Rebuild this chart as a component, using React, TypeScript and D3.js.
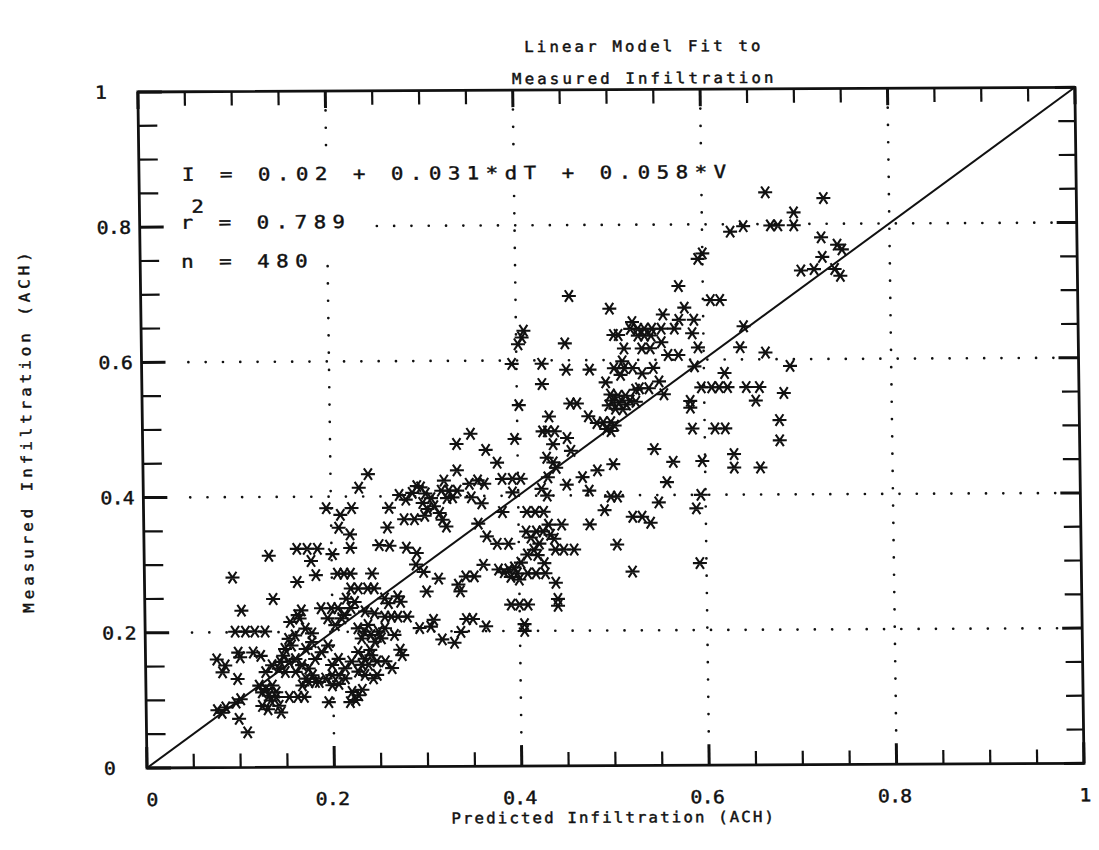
import React, { useRef, useEffect } from "react";
import { select, scaleLinear, range } from "d3";

// predicted (x) vs measured (y) infiltration, ACH
const lowCluster: [number, number][] = [
  [0.094, 0.281], [0.103, 0.232], [0.137, 0.249],
  [0.096, 0.201], [0.107, 0.201], [0.117, 0.201], [0.128, 0.201],
  [0.076, 0.160], [0.085, 0.151], [0.082, 0.141],
  [0.099, 0.170], [0.101, 0.163], [0.115, 0.170], [0.123, 0.165], [0.098, 0.131],
  [0.076, 0.085], [0.085, 0.089], [0.081, 0.081],
  [0.096, 0.096], [0.101, 0.101], [0.099, 0.072], [0.108, 0.052],
  [0.121, 0.121], [0.128, 0.116], [0.135, 0.121], [0.124, 0.111], [0.131, 0.106], [0.139, 0.111],
  [0.124, 0.091], [0.130, 0.086], [0.142, 0.091], [0.144, 0.081], [0.133, 0.099], [0.139, 0.104],
  [0.153, 0.104], [0.162, 0.104], [0.169, 0.104],
  [0.128, 0.141], [0.135, 0.151], [0.144, 0.156], [0.142, 0.146], [0.149, 0.141],
  [0.149, 0.175], [0.147, 0.165], [0.156, 0.180], [0.153, 0.190], [0.160, 0.195],
  [0.155, 0.215], [0.165, 0.220], [0.167, 0.232], [0.163, 0.225],
  [0.171, 0.205], [0.178, 0.198], [0.178, 0.185], [0.171, 0.175],
  [0.160, 0.160], [0.167, 0.151], [0.174, 0.146], [0.178, 0.136], [0.171, 0.131],
  [0.153, 0.156], [0.160, 0.141],
  [0.181, 0.160], [0.188, 0.170], [0.195, 0.180],
  [0.188, 0.235], [0.199, 0.235], [0.206, 0.235], [0.220, 0.235],
  [0.195, 0.220], [0.203, 0.210], [0.210, 0.220], [0.213, 0.225],
  [0.220, 0.264], [0.228, 0.264], [0.238, 0.264], [0.245, 0.264],
  [0.215, 0.249], [0.224, 0.244],
  [0.235, 0.230], [0.245, 0.227], [0.256, 0.222], [0.263, 0.222], [0.270, 0.222], [0.280, 0.222],
  [0.270, 0.252], [0.273, 0.244], [0.256, 0.249], [0.260, 0.242],
  [0.227, 0.205], [0.234, 0.200], [0.241, 0.195], [0.249, 0.200], [0.256, 0.205],
  [0.238, 0.210], [0.231, 0.190], [0.245, 0.185], [0.252, 0.190], [0.266, 0.195],
  [0.227, 0.170], [0.234, 0.160], [0.241, 0.165], [0.231, 0.151], [0.238, 0.151],
  [0.234, 0.136], [0.227, 0.141], [0.240, 0.173], [0.247, 0.156],
  [0.206, 0.160], [0.199, 0.151], [0.213, 0.146], [0.220, 0.156], [0.213, 0.131], [0.206, 0.136], [0.199, 0.136],
  [0.192, 0.131], [0.185, 0.126], [0.199, 0.121], [0.206, 0.123],
  [0.181, 0.126], [0.174, 0.126], [0.167, 0.121],
  [0.220, 0.111], [0.227, 0.106], [0.231, 0.114], [0.224, 0.099],
  [0.195, 0.096], [0.218, 0.096], [0.243, 0.131], [0.247, 0.136],
  [0.256, 0.156], [0.263, 0.146], [0.272, 0.173], [0.274, 0.165],
  [0.163, 0.323], [0.174, 0.323], [0.185, 0.323],
  [0.133, 0.313], [0.178, 0.305], [0.201, 0.315], [0.220, 0.324], [0.291, 0.316],
  [0.163, 0.274], [0.183, 0.284], [0.206, 0.286], [0.213, 0.286], [0.220, 0.286], [0.243, 0.286],
  [0.290, 0.299], [0.293, 0.205], [0.330, 0.183],
];

const midCluster: [number, number][] = [
  [0.240, 0.433], [0.230, 0.413], [0.195, 0.383], [0.210, 0.373], [0.222, 0.383],
  [0.208, 0.354], [0.220, 0.344], [0.262, 0.383], [0.273, 0.402], [0.280, 0.395],
  [0.287, 0.405], [0.292, 0.415], [0.260, 0.354], [0.278, 0.366], [0.289, 0.366],
  [0.251, 0.328], [0.262, 0.327], [0.280, 0.324],
  [0.296, 0.413], [0.301, 0.404], [0.307, 0.397], [0.298, 0.390], [0.303, 0.381],
  [0.300, 0.371], [0.310, 0.385], [0.316, 0.375], [0.319, 0.365], [0.323, 0.355],
  [0.321, 0.423], [0.326, 0.408], [0.318, 0.408], [0.330, 0.398], [0.335, 0.408], [0.324, 0.397],
  [0.350, 0.398], [0.361, 0.389], [0.335, 0.438], [0.348, 0.418], [0.357, 0.423], [0.364, 0.418],
  [0.335, 0.477], [0.350, 0.492], [0.366, 0.468], [0.378, 0.449],
  [0.357, 0.359], [0.366, 0.340], [0.377, 0.329], [0.389, 0.329],
  [0.413, 0.338], [0.422, 0.329], [0.416, 0.320], [0.409, 0.313], [0.420, 0.312],
  [0.434, 0.342], [0.438, 0.336], [0.427, 0.300], [0.439, 0.320], [0.448, 0.320], [0.459, 0.320],
  [0.402, 0.301], [0.395, 0.294], [0.389, 0.291], [0.378, 0.291], [0.384, 0.287],
  [0.398, 0.285], [0.409, 0.285], [0.418, 0.285], [0.428, 0.285], [0.400, 0.276], [0.391, 0.280],
  [0.439, 0.271], [0.362, 0.298], [0.343, 0.281], [0.352, 0.281], [0.335, 0.269],
  [0.337, 0.259], [0.314, 0.278], [0.301, 0.259], [0.298, 0.288],
  [0.391, 0.239], [0.400, 0.239], [0.409, 0.239], [0.441, 0.247], [0.441, 0.237],
  [0.308, 0.217], [0.305, 0.207], [0.343, 0.218], [0.350, 0.218], [0.364, 0.207],
  [0.337, 0.199], [0.405, 0.210], [0.405, 0.200], [0.317, 0.188],
  [0.505, 0.327], [0.521, 0.287], [0.593, 0.299],
];

const upperCluster: [number, number][] = [
  [0.457, 0.695], [0.574, 0.709], [0.608, 0.688], [0.618, 0.688], [0.500, 0.676],
  [0.557, 0.667], [0.580, 0.677], [0.574, 0.659], [0.590, 0.659], [0.524, 0.656], [0.522, 0.646],
  [0.530, 0.646], [0.537, 0.646], [0.545, 0.646], [0.555, 0.646], [0.569, 0.646],
  [0.537, 0.636], [0.544, 0.636], [0.530, 0.636], [0.504, 0.637], [0.509, 0.637], [0.588, 0.639], [0.555, 0.626],
  [0.408, 0.644], [0.406, 0.634], [0.402, 0.624], [0.452, 0.625],
  [0.515, 0.617], [0.534, 0.617], [0.543, 0.617], [0.594, 0.618], [0.562, 0.607], [0.573, 0.607],
  [0.639, 0.618], [0.643, 0.649], [0.666, 0.610], [0.692, 0.590],
  [0.395, 0.595], [0.427, 0.595], [0.453, 0.586], [0.478, 0.586], [0.513, 0.598],
  [0.504, 0.588], [0.515, 0.588], [0.524, 0.588], [0.534, 0.580], [0.546, 0.588], [0.511, 0.578],
  [0.590, 0.590], [0.622, 0.580],
  [0.427, 0.565], [0.495, 0.567], [0.552, 0.568], [0.531, 0.558], [0.541, 0.558], [0.527, 0.556],
  [0.500, 0.549], [0.508, 0.547], [0.516, 0.547], [0.502, 0.540], [0.509, 0.537], [0.517, 0.534],
  [0.505, 0.528], [0.513, 0.527], [0.521, 0.540], [0.498, 0.533],
  [0.527, 0.538], [0.557, 0.549], [0.597, 0.559], [0.608, 0.559], [0.616, 0.559], [0.625, 0.559],
  [0.645, 0.559], [0.659, 0.559], [0.655, 0.539], [0.685, 0.550], [0.585, 0.539], [0.585, 0.529],
  [0.402, 0.534], [0.457, 0.536], [0.464, 0.536], [0.434, 0.517], [0.476, 0.517], [0.485, 0.507],
  [0.492, 0.508], [0.500, 0.508], [0.504, 0.503], [0.495, 0.498], [0.500, 0.495],
  [0.427, 0.495], [0.432, 0.495], [0.440, 0.495], [0.453, 0.485], [0.397, 0.484],
  [0.587, 0.498], [0.611, 0.498], [0.622, 0.498], [0.680, 0.510], [0.680, 0.480],
  [0.438, 0.476], [0.457, 0.466], [0.546, 0.468], [0.431, 0.456], [0.438, 0.449], [0.441, 0.441],
  [0.566, 0.449], [0.597, 0.450], [0.631, 0.460], [0.631, 0.440], [0.659, 0.440],
  [0.502, 0.446], [0.485, 0.437], [0.469, 0.427], [0.432, 0.427],
  [0.383, 0.425], [0.394, 0.425], [0.403, 0.425], [0.452, 0.416], [0.559, 0.419],
  [0.394, 0.405], [0.425, 0.410], [0.431, 0.400], [0.476, 0.407], [0.499, 0.398], [0.506, 0.398],
  [0.595, 0.400], [0.550, 0.389], [0.492, 0.378], [0.590, 0.380],
  [0.409, 0.376], [0.418, 0.376], [0.427, 0.376], [0.383, 0.376],
  [0.522, 0.368], [0.532, 0.368], [0.541, 0.359], [0.432, 0.357], [0.446, 0.357], [0.476, 0.357],
  [0.408, 0.347], [0.419, 0.347], [0.426, 0.347],
];

const topCluster: [number, number][] = [
  [0.668, 0.847], [0.730, 0.838], [0.698, 0.817], [0.698, 0.798], [0.673, 0.798], [0.681, 0.798],
  [0.644, 0.797], [0.630, 0.789], [0.727, 0.780], [0.744, 0.769], [0.749, 0.762], [0.728, 0.751],
  [0.705, 0.731], [0.719, 0.733], [0.741, 0.733], [0.747, 0.723], [0.600, 0.757], [0.595, 0.749],
];

const majorTicks = [0, 0.2, 0.4, 0.6, 0.8, 1];
const tickLabels = ["0", "0.2", "0.4", "0.6", "0.8", "1"];
const gridValues = [0.2, 0.4, 0.6, 0.8];
const titleLines = ["Linear Model Fit to", "Measured Infiltration"];
const xTitle = "Predicted Infiltration (ACH)";
const yTitle = "Measured Infiltration (ACH)";
const fitText = ["I = 0.02 + 0.031*dT + 0.058*V", "r = 0.789", "n = 480"];

const FONT = "'DejaVu Sans Mono', monospace";
const ADV = 0.602; // em advance of DejaVu Sans Mono

// plotter-like lettering: fixed pitch, optionally widened glyphs
type Style = { size: number; pitch: number; sx: number };
const labelStyle: Style = { size: 18, pitch: 11.2, sx: 1.1 };
const fitStyle: Style = { size: 18, pitch: 19, sx: 1.15 };
const titleStyle: Style = { size: 15, pitch: 12.6, sx: 1.05 };
const xTitleStyle: Style = { size: 15, pitch: 11.6, sx: 1.05 };
const yTitleStyle: Style = { size: 15, pitch: 13.5, sx: 1.05 };
const textWidth = (s: string, st: Style) => (s.length - 1) * st.pitch + ADV * st.size * st.sx;

const STAR = "M-7,0H7M-4,-5.8L4,5.8M-4,5.8L4,-5.8";

function App() {
  const svgRef = useRef<SVGSVGElement>(null);

  useEffect(() => {
    const svg = select(svgRef.current);
    svg.selectAll("*").remove();

    const x = scaleLinear().domain([0, 1]).range([147, 1084]);
    const y = scaleLinear().domain([0, 1]).range([768, 92]);

    // the scanned page sits slightly skewed
    const g = svg.append("g").attr("transform", "matrix(1,-0.005,0.0135,1,-10.37,0.73)");

    const addText = (s: string, left: number, base: number, st: Style, rotate = 0) =>
      g.append("text")
        .attr("transform", `translate(${left},${base}) rotate(${rotate}) scale(${st.sx},1)`)
        .attr("font-family", FONT)
        .attr("font-size", st.size)
        .attr("letter-spacing", st.pitch / st.sx - ADV * st.size)
        .attr("fill", "#111")
        .attr("stroke", "#111")
        .attr("stroke-width", 0.45)
        .text(s);

    // dotted grid
    gridValues.forEach(v => {
      g.append("line")
        .attr("x1", x(0.05)).attr("x2", x(0.985))
        .attr("y1", y(v)).attr("y2", y(v))
        .attr("stroke", "#111").attr("stroke-width", 2.7)
        .attr("stroke-linecap", "round").attr("stroke-dasharray", "0 17.3");
      g.append("line")
        .attr("x1", x(v)).attr("x2", x(v))
        .attr("y1", y(0.05)).attr("y2", y(0.975))
        .attr("stroke", "#111").attr("stroke-width", 2.7)
        .attr("stroke-linecap", "round").attr("stroke-dasharray", "0 17.3");
    });

    // white boxes that mask the grid under the fit text
    g.append("rect").attr("x", 180).attr("y", 160).attr("width", 565).attr("height", 30).attr("fill", "#fff");
    g.append("rect").attr("x", 180).attr("y", 190).attr("width", 200).attr("height", 66).attr("fill", "#fff");

    // ticks
    const minor = range(0, 21).map(i => i / 20);
    minor.forEach((v, i) => {
      const major = i % 4 === 0;
      const sw = major ? 3 : 2.2;
      g.append("line").attr("x1", x(v)).attr("x2", x(v))
        .attr("y1", y(0)).attr("y2", y(0) - (major ? 21 : 14))
        .attr("stroke", "#111").attr("stroke-width", sw);
      g.append("line").attr("x1", x(v)).attr("x2", x(v))
        .attr("y1", y(1)).attr("y2", y(1) + (major ? 17 : 14))
        .attr("stroke", "#111").attr("stroke-width", sw);
      g.append("line").attr("y1", y(v)).attr("y2", y(v))
        .attr("x1", x(0)).attr("x2", x(0) + (major ? 24 : 19))
        .attr("stroke", "#111").attr("stroke-width", sw);
      g.append("line").attr("y1", y(v)).attr("y2", y(v))
        .attr("x1", x(1)).attr("x2", x(1) - (major ? 20 : 17))
        .attr("stroke", "#111").attr("stroke-width", sw);
    });

    // frame
    g.append("rect")
      .attr("x", x(0)).attr("y", y(1))
      .attr("width", x(1) - x(0)).attr("height", y(0) - y(1))
      .attr("fill", "none").attr("stroke", "#111").attr("stroke-width", 2.8);

    // 1:1 line
    g.append("line")
      .attr("x1", x(0)).attr("y1", y(0)).attr("x2", x(1)).attr("y2", y(1))
      .attr("stroke", "#111").attr("stroke-width", 2);

    // points
    const points = [...lowCluster, ...midCluster, ...upperCluster, ...topCluster];
    g.selectAll(".pt")
      .data(points)
      .join("path")
      .attr("class", "pt")
      .attr("d", STAR)
      .attr("transform", d => `translate(${x(d[0])},${y(d[1])})`)
      .attr("fill", "none")
      .attr("stroke", "#111")
      .attr("stroke-width", 2.1);

    // tick labels
    majorTicks.forEach((v, i) => {
      const s = tickLabels[i];
      const w = textWidth(s, labelStyle);
      const cx = i === 0 ? x(v) + 5 : i === majorTicks.length - 1 ? x(v) + 1 : x(v) - 2;
      addText(s, cx - w / 2, 806, labelStyle);
      addText(s, 104, y(v) + 6.5, labelStyle);
    });

    // fit annotation
    addText(fitText[0], 190, 181, fitStyle);
    addText(fitText[1], 188, 229, fitStyle);
    addText("2", 199, 213, fitStyle);
    addText(fitText[2], 188, 268, fitStyle);

    // titles
    titleLines.forEach((s, i) =>
      addText(s, 652 - textWidth(s, titleStyle) / 2, i === 0 ? 54 : 86, titleStyle));
    addText(xTitle, 612 - textWidth(xTitle, xTitleStyle) / 2, 825, xTitleStyle);
    addText(yTitle, 36, 432 + textWidth(yTitle, yTitleStyle) / 2, yTitleStyle, -90);
  }, []);

  return (
    <svg
      ref={svgRef}
      width={1099}
      height={850}
      style={{ position: "absolute", left: 0, top: 0, background: "#fff" }}
    />
  );
}

export default App;
